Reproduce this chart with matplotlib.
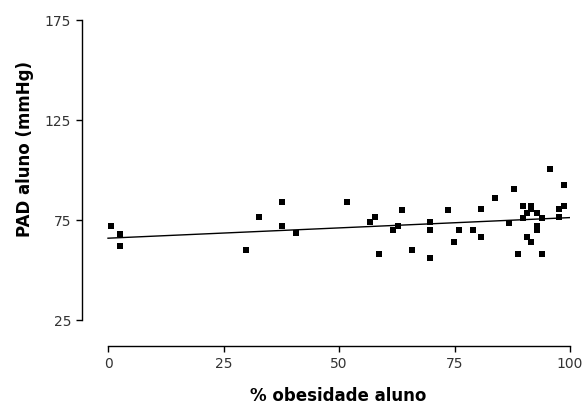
import matplotlib
matplotlib.use('Agg')
import matplotlib.pyplot as plt

plt.rcParams['font.family'] = ['DejaVu Sans']

# % obesidade (x) vs PAD (y) for each student
obesidade = [0.6, 2.7, 2.7, 29.8, 32.7, 37.7, 37.7, 40.7, 51.8,
             56.7, 57.8, 58.7, 61.6, 62.8, 63.7, 65.8, 69.8, 69.8, 69.8,
             73.7, 74.8, 75.9, 78.9, 80.7, 80.7, 83.8, 86.9, 87.9, 88.7,
             89.8, 89.8, 90.8, 90.8, 91.6, 91.6, 91.6, 92.8, 92.8, 92.8,
             93.9, 93.9, 95.7, 97.7, 97.7, 98.8, 98.8]
pad = [72.2, 68.2, 61.9, 60.0, 76.3, 84.0, 72.0, 68.3, 84.0,
       73.8, 76.3, 58.0, 70.0, 72.0, 80.0, 60.0, 74.0, 70.0, 56.0,
       80.2, 64.0, 70.0, 70.2, 66.3, 80.3, 86.0, 73.7, 90.3, 58.2,
       82.0, 76.2, 78.3, 66.3, 82.0, 80.3, 63.8, 78.3, 72.0, 70.2,
       76.2, 58.2, 100.5, 80.3, 76.3, 92.3, 82.2]

# linear regression line
fit_x = [0, 100]
fit_y = [65.9, 76.2]

x_ticks = [0, 25, 50, 75, 100]
y_ticks = [25, 75, 125, 175]

W, H = 588, 408
fig = plt.figure(figsize=(W / 100, H / 100), dpi=100)
ax = fig.add_axes([82 / W, 1 - 346 / H, (570 - 82) / W, (346 - 19) / H])

ax.plot(fit_x, fit_y, color='black', lw=1.0)
ax.scatter(obesidade, pad, marker='s', s=22, color='black', linewidths=0)

ax.set_xlim(-5.63, 100)
ax.set_ylim(12, 175.5)
ax.set_xticks(x_ticks)
ax.set_yticks(y_ticks)

for side in ('top', 'right'):
    ax.spines[side].set_visible(False)
ax.spines['left'].set_bounds(25, 175)
ax.spines['bottom'].set_bounds(0, 100)
for side in ('left', 'bottom'):
    ax.spines[side].set_linewidth(1.0)

ax.tick_params(direction='out', length=4.3, width=1.0, labelsize=10,
               pad=3.5, labelcolor='#333333')
ax.set_facecolor('white')

fig.text(25 / W, 1 - 149 / H, 'PAD aluno (mmHg)', rotation=90,
         ha='center', va='center', fontsize=12, fontweight='bold')
fig.text(338 / W, 1 - 396 / H, '% obesidade aluno',
         ha='center', va='center', fontsize=12, fontweight='bold')

fig.savefig('out.png', dpi=100, facecolor='white')
